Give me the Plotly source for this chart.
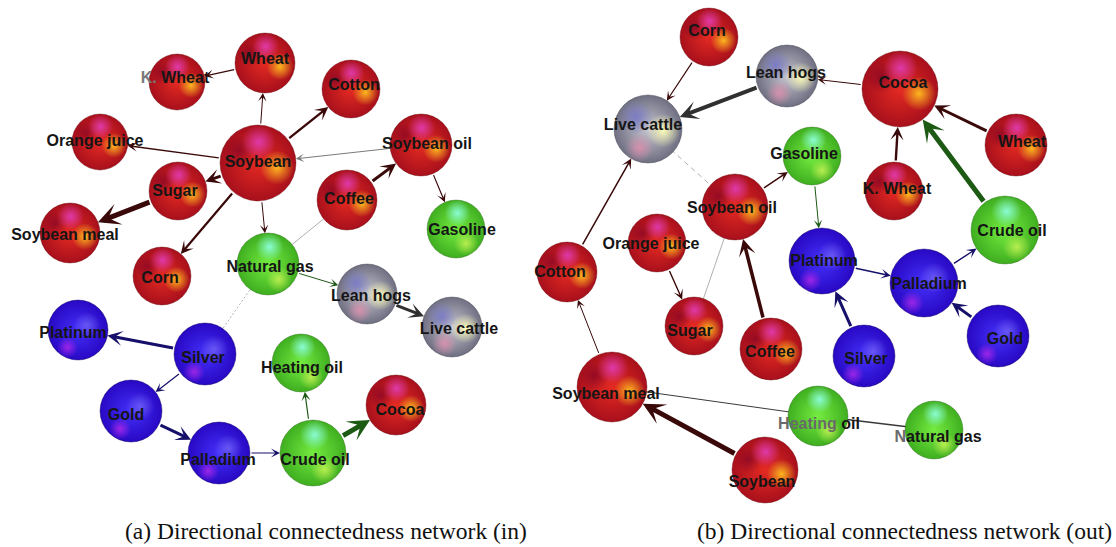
import plotly.graph_objects as go

W, H = 1116, 547

# ---------------- commodity sectors ----------------
sector = {
    "Wheat": "agri", "K. Wheat": "agri", "Orange juice": "agri", "Soybean": "agri",
    "Sugar": "agri", "Soybean meal": "agri", "Corn": "agri", "Cotton": "agri",
    "Soybean oil": "agri", "Coffee": "agri", "Cocoa": "agri",
    "Gasoline": "energy", "Natural gas": "energy", "Heating oil": "energy", "Crude oil": "energy",
    "Lean hogs": "livestock", "Live cattle": "livestock",
    "Platinum": "metal", "Silver": "metal", "Gold": "metal", "Palladium": "metal",
}

# ---------------- (a) network of "in" connectedness ----------------
in_nodes = ["K. Wheat", "Wheat", "Orange juice", "Soybean", "Sugar", "Soybean meal", "Corn",
            "Cotton", "Soybean oil", "Coffee", "Gasoline", "Natural gas", "Lean hogs",
            "Live cattle", "Platinum", "Silver", "Gold", "Palladium", "Heating oil",
            "Crude oil", "Cocoa"]
in_x = [177, 265, 100, 258, 178, 70, 162, 351, 421, 347, 456, 268, 367, 452, 78, 205, 131, 219, 301, 313, 396]
in_y = [82, 63, 142, 163, 191, 233, 276, 89, 145, 200, 229, 264, 294, 327, 330, 354, 411, 453, 363, 453, 405]
in_r = [28, 30, 28, 38, 29, 30, 29, 29, 31, 30, 29, 31, 30, 30, 30, 31, 31, 31, 29, 33, 30]
in_lx = [175, 265, 95, 258, 175, 65, 160, 354, 427, 349, 462, 270, 371, 459, 73, 203, 126, 218, 302, 315, 400]
in_ly = [79, 60, 142, 163, 192, 236, 279, 86, 145, 200, 231, 268, 297, 330, 334, 359, 416, 461, 369, 461, 411]

# (source, target, strength, kind)
in_edges = [
    ("Wheat", "K. Wheat", 1.2, "arrow"),
    ("Soybean", "Wheat", 1.0, "arrow"),
    ("Soybean", "Orange juice", 1.3, "arrow"),
    ("Soybean", "Sugar", 3.0, "arrow"),
    ("Sugar", "Soybean meal", 5.0, "arrow"),
    ("Soybean", "Corn", 2.2, "arrow"),
    ("Soybean", "Natural gas", 1.0, "arrow"),
    ("Soybean", "Cotton", 2.4, "arrow"),
    ("Soybean oil", "Soybean", 1.0, "faint"),
    ("Coffee", "Soybean oil", 3.0, "arrow"),
    ("Soybean oil", "Gasoline", 1.2, "arrow"),
    ("Natural gas", "Coffee", 0.8, "line"),
    ("Natural gas", "Lean hogs", 1.0, "arrow"),
    ("Lean hogs", "Live cattle", 3.0, "arrow"),
    ("Natural gas", "Silver", 0.8, "dot"),
    ("Silver", "Platinum", 3.0, "arrow"),
    ("Silver", "Gold", 1.2, "arrow"),
    ("Gold", "Palladium", 3.0, "arrow"),
    ("Palladium", "Crude oil", 1.2, "arrow"),
    ("Crude oil", "Heating oil", 1.2, "arrow"),
    ("Crude oil", "Cocoa", 5.0, "arrow"),
]

# ---------------- (b) network of "out" connectedness ----------------
out_nodes = ["Corn", "Lean hogs", "Live cattle", "Cocoa", "Wheat", "K. Wheat", "Crude oil",
             "Gasoline", "Soybean oil", "Orange juice", "Cotton", "Sugar", "Coffee",
             "Soybean meal", "Soybean", "Platinum", "Palladium", "Silver", "Gold",
             "Heating oil", "Natural gas"]
out_x = [709, 787, 648, 900, 1016, 894, 1005, 812, 735, 657, 567, 694, 771, 612, 765, 822, 924, 864, 998, 818, 934]
out_y = [37, 76, 129, 89, 145, 191, 230, 156, 207, 243, 272, 326, 349, 387, 470, 261, 283, 356, 336, 416, 430]
out_r = [29, 31, 34, 38, 31, 29, 34, 29, 33, 29, 30, 29, 31, 35, 33, 33, 34, 31, 31, 30, 29]
out_lx = [707, 786, 643, 903, 1022, 897, 1012, 804, 732, 651, 560, 690, 770, 606, 762, 824, 929, 866, 1005, 819, 938]
out_ly = [32, 74, 126, 84, 143, 190, 232, 155, 209, 245, 273, 332, 353, 395, 483, 262, 285, 360, 340, 425, 438]

out_edges = [
    ("Corn", "Live cattle", 1.2, "arrow"),
    ("Lean hogs", "Live cattle", 4.0, "arrow"),
    ("Cocoa", "Lean hogs", 1.0, "arrow"),
    ("Wheat", "Cocoa", 3.0, "arrow"),
    ("K. Wheat", "Cocoa", 2.4, "arrow"),
    ("Crude oil", "Cocoa", 5.0, "arrow"),
    ("Palladium", "Crude oil", 1.4, "arrow"),
    ("Platinum", "Palladium", 1.4, "arrow"),
    ("Gold", "Palladium", 3.0, "arrow"),
    ("Silver", "Platinum", 3.0, "arrow"),
    ("Gasoline", "Platinum", 1.0, "arrow"),
    ("Soybean oil", "Gasoline", 1.5, "arrow"),
    ("Soybean oil", "Live cattle", 0.8, "dash"),
    ("Coffee", "Soybean oil", 3.5, "arrow"),
    ("Sugar", "Soybean oil", 0.8, "line"),
    ("Orange juice", "Sugar", 1.4, "arrow"),
    ("Cotton", "Live cattle", 1.5, "arrow"),
    ("Soybean meal", "Cotton", 1.0, "arrow"),
    ("Soybean", "Soybean meal", 5.0, "arrow"),
    ("Heating oil", "Soybean meal", 1.0, "darkline"),
    ("Natural gas", "Heating oil", 1.4, "darkline"),
]

captions = ["(a) Directional connectedness network (in)",
            "(b) Directional connectedness network (out)"]

# label text with partly greyed words
label_markup = {
    ("in", "K. Wheat"): "<span style='color:#7a7a7a'>K.</span> Wheat",
    ("out", "Heating oil"): "<span style='color:#6a6a6a'>Heating</span> oil",
    ("out", "Natural gas"): "<span style='color:#6a6a6a'>N</span>atural gas",
}

# ---------------- styling ----------------
edge_colors = {"agri": "#3a0909", "energy": "#1d5a14", "metal": "#16106a", "livestock": "#303030"}

# shaded-ball look: base radial fill + soft coloured spots (dx, dy, radius as fraction of r)
sphere_style = {
    "agri": dict(edge="#a8101c", core="#e42a22", outline="rgba(90,0,0,0.45)",
                 spots=[(-0.5, -0.32, 0.42, (120, 0, 40, 0.6)),
                        (0.02, -0.55, 0.45, (225, 60, 185, 0.9)),
                        (0.5, 0.12, 0.45, (255, 190, 30, 0.95))]),
    "energy": dict(edge="#3fae20", core="#74ec40", outline="rgba(20,80,0,0.4)",
                   spots=[(0.05, -0.55, 0.45, (140, 255, 220, 0.95)),
                          (0.35, 0.5, 0.42, (215, 250, 90, 0.75))]),
    "metal": dict(edge="#2808c4", core="#4430f8", outline="rgba(10,0,80,0.5)",
                  spots=[(0.3, -0.15, 0.45, (140, 130, 255, 0.55)),
                         (-0.35, 0.58, 0.35, (175, 40, 235, 0.85))]),
    "livestock": dict(edge="#6f6f82", core="#c6c6d0", outline="rgba(60,60,70,0.5)",
                      spots=[(-0.35, -0.35, 0.5, (120, 120, 200, 0.9)),
                             (0.45, 0.05, 0.5, (255, 255, 185, 0.95)),
                             (-0.25, 0.55, 0.42, (225, 145, 175, 0.85))]),
}

panels = [
    ("in", in_nodes, in_x, in_y, in_r, in_lx, in_ly, in_edges),
    ("out", out_nodes, out_x, out_y, out_r, out_lx, out_ly, out_edges),
]

fig = go.Figure()

# ---------- edges ----------
plain_style = {
    "line": dict(color="#9a9a9a", dash="solid"),
    "dot": dict(color="#9a9a9a", dash="2px,2px"),
    "dash": dict(color="#9a9a9a", dash="5px,4px"),
    "darkline": dict(color="#3a3a3a", dash="solid"),
}
for tag, names, xs, ys, rs, lxs, lys, edges in panels:
    pos = {n: (x, y, r) for n, x, y, r in zip(names, xs, ys, rs)}
    for src, dst, w, kind in edges:
        x0, y0, r0 = pos[src]
        x1, y1, r1 = pos[dst]
        if kind in ("arrow", "faint"):
            color = edge_colors[sector[src]] if kind == "arrow" else "#7a7a7a"
            fig.add_annotation(
                x=x1, y=y1, ax=x0, ay=y0, xref="x", yref="y", axref="x", ayref="y",
                text="", showarrow=True, arrowhead=3, arrowwidth=w,
                arrowsize=(5 + 3.4 * w) / (6 * w), arrowcolor=color,
                standoff=r1, startstandoff=r0,
            )
        else:
            st = plain_style[kind]
            fig.add_trace(go.Scatter(
                x=[x0, x1], y=[y0, y1], mode="lines",
                line=dict(width=w, color=st["color"], dash=st["dash"]),
                hoverinfo="skip", showlegend=False,
            ))

# ---------- nodes ----------
all_nodes = []
for tag, names, xs, ys, rs, lxs, lys, edges in panels:
    for n, x, y, r in zip(names, xs, ys, rs):
        all_nodes.append((n, x, y, r))

for sec, st in sphere_style.items():
    members = [(n, x, y, r) for n, x, y, r in all_nodes if sector[n] == sec]
    if not members:
        continue
    fig.add_trace(go.Scatter(
        x=[m[1] for m in members], y=[m[2] for m in members], mode="markers",
        marker=dict(size=[2 * m[3] for m in members], color=st["edge"], opacity=1,
                    gradient=dict(type="radial", color=st["core"]),
                    line=dict(width=0.8, color=st["outline"])),
        hoverinfo="skip", showlegend=False,
    ))
    for dx, dy, fr, (cr, cg, cb, ca) in st["spots"]:
        fig.add_trace(go.Scatter(
            x=[m[1] + dx * m[3] for m in members],
            y=[m[2] + dy * m[3] for m in members],
            mode="markers",
            marker=dict(size=[2 * fr * m[3] for m in members], opacity=1,
                        color=f"rgba({cr},{cg},{cb},0)",
                        gradient=dict(type="radial", color=f"rgba({cr},{cg},{cb},{ca})"),
                        line=dict(width=0)),
            hoverinfo="skip", showlegend=False,
        ))

# ---------- labels ----------
lab_x, lab_y, lab_t = [], [], []
for tag, names, xs, ys, rs, lxs, lys, edges in panels:
    for n, lx, ly in zip(names, lxs, lys):
        lab_x.append(lx)
        lab_y.append(ly)
        lab_t.append(label_markup.get((tag, n), n))
fig.add_trace(go.Scatter(
    x=lab_x, y=lab_y, mode="text", text=lab_t, textposition="middle center",
    textfont=dict(family="Arial, Liberation Sans, sans-serif", size=16, color="#151515", weight="bold"),
    hoverinfo="skip", showlegend=False,
))

# ---------- captions ----------
for cap, cx in zip(captions, [326, 904]):
    fig.add_annotation(x=cx, y=531, xref="x", yref="y", text=cap, showarrow=False,
                       borderpad=0,
                       font=dict(family="Liberation Serif, Times New Roman, serif", size=23.5, color="#111111"))

fig.update_layout(
    width=W, height=H, autosize=False,
    margin=dict(l=0, r=0, t=0, b=0, pad=0),
    paper_bgcolor="white", plot_bgcolor="white", showlegend=False,
    xaxis=dict(range=[0, W], visible=False, fixedrange=True),
    yaxis=dict(range=[H, 0], visible=False, fixedrange=True),
)

fig.write_html("out.html", include_plotlyjs=True, config={"displayModeBar": False})
